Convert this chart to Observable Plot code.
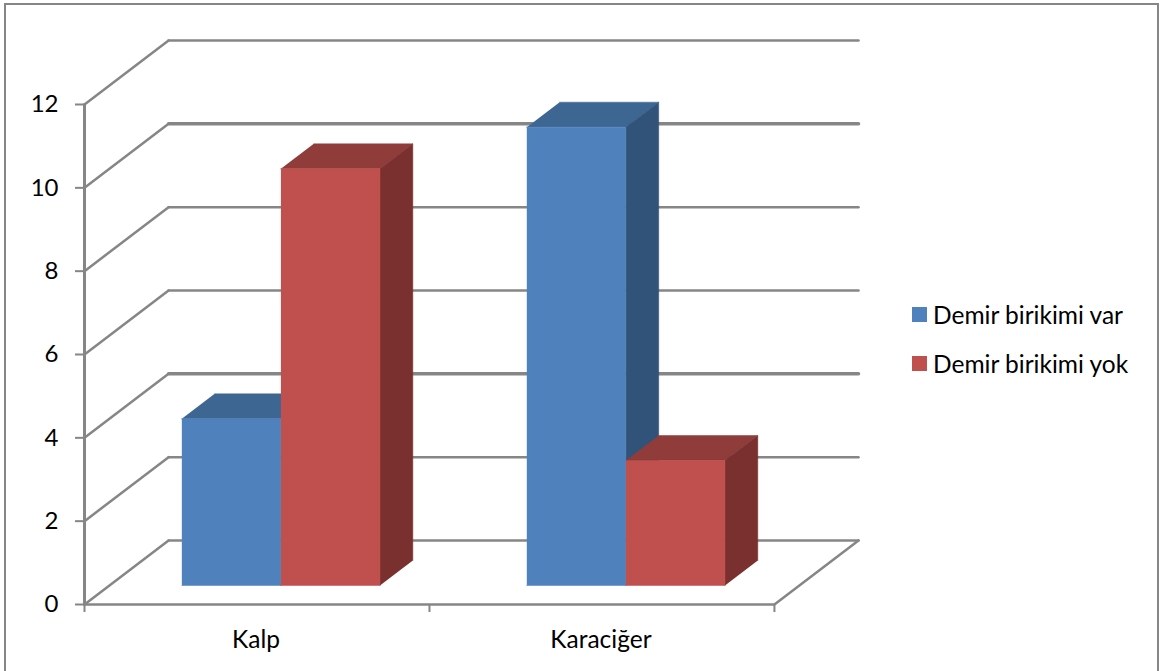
<!DOCTYPE html>
<html lang="tr">
<head>
<meta charset="utf-8">
<title>Demir birikimi</title>
<script src="https://cdn.jsdelivr.net/npm/d3@7"></script>
<script src="https://cdn.jsdelivr.net/npm/@observablehq/plot@0.6"></script>
<style>
  html, body { margin: 0; padding: 0; background: #fff; overflow: hidden; }
  #stage { position: relative; width: 1160px; height: 671px; overflow: hidden; font-family: Lato, sans-serif; }
  #stage svg { position: absolute; left: 0; top: 0; }
  #border { position: absolute; left: 4px; top: 3px; width: 1151px; height: 700px; border: 2px solid #868686; }
  #legend { position: absolute; left: 912px; top: 290px; font-size: 24.5px; color: #000; }
  #legend div { display: flex; align-items: center; height: 49px; white-space: nowrap; }
  #legend i { display: block; width: 15px; height: 15px; margin-right: 6px; }
</style>
</head>
<body>
<div id="stage">
  <div id="border"></div>
  <div id="legend"></div>
</div>
<script>
// Iron deposition by organ
const categories = ["Kalp", "Karaciğer"];
const seriesNames = ["Demir birikimi var", "Demir birikimi yok"];
const varValues = [4, 11];
const yokValues = [10, 3];
const yTicks = [0, 2, 4, 6, 8, 10, 12];
const xTicks = [0, 1, 2];

// Shades per series: front, top and side faces
const shades = [
  {front: "#4f81bd", top: "#3e6693", side: "#315379"},
  {front: "#c0504d", top: "#8f3c3a", side: "#7a302e"}
];

// Oblique projection, in data units: how far one full unit of depth shifts a point
const depthX = 84 / 344.7;
const depthY = 64 / 41.67;
const project = (x, v, z) => ({x: x + z * depthX, y: v + z * depthY});

// Placement of the bars inside a category slot and through the depth
const gap = 0.2098;
const barWidth = 0.2872;
const zFront = 0.297;
const zBack = 0.6875;

const poly = (pts, fill) => Plot.line(pts, {x: "x", y: "y", fill, stroke: fill, strokeWidth: 0.5});
const wire = (pts, strokeWidth = 2.5) => Plot.line(pts, {x: "x", y: "y", stroke: "#868686", strokeWidth, strokeLinejoin: "miter"});

// Side wall and back wall gridlines; the 10 and 4 lines render heavier on the back wall
const heavy = new Set([10, 4]);
const gridMarks = yTicks.flatMap((v) => [
  wire([project(0, v, 0), project(0, v, 1)]),
  wire([project(0, v, 1), project(2, v, 1)], heavy.has(v) ? 3.5 : 2.5)
]);

// Floor outline and the vertical axis
const frameMarks = [
  wire([project(0, 0, 0), project(2, 0, 0), project(2, 0, 1)]),
  wire([project(0, 0, 0), project(0, 12, 0)], 3)
];

// One box: top and side faces first, then the front
function box(i, s, v) {
  const x0 = i + gap + s * barWidth;
  const x1 = x0 + barWidth;
  const c = shades[s];
  return [
    poly([project(x0, v, zFront), project(x1, v, zFront), project(x1, v, zBack), project(x0, v, zBack)], c.top),
    poly([project(x1, 0, zFront), project(x1, v, zFront), project(x1, v, zBack), project(x1, 0, zBack)], c.side),
    poly([project(x0, 0, zFront), project(x1, 0, zFront), project(x1, v, zFront), project(x0, v, zFront)], c.front)
  ];
}

const barMarks = categories.flatMap((_, i) => [
  ...box(i, 0, varValues[i]),
  ...box(i, 1, yokValues[i])
]);

const chart = Plot.plot({
  width: 1160,
  height: 671,
  marginLeft: 84,
  marginRight: 302,
  marginTop: 40,
  marginBottom: 67,
  style: {background: "transparent", fontFamily: "Lato, sans-serif", overflow: "visible"},
  x: {domain: [0, 2 + depthX]},
  y: {domain: [0, 12 + depthY]},
  marks: [
    ...gridMarks,
    ...frameMarks,
    ...barMarks,
    Plot.axisY({
      ticks: yTicks,
      tickSize: 9,
      tickPadding: 17,
      stroke: "#868686",
      strokeWidth: 2,
      fill: "#000",
      fontSize: 24,
      label: null,
      tickFormat: (d) => `${d}`
    }),
    Plot.axisX({
      ticks: xTicks,
      tickSize: 8,
      stroke: "#868686",
      strokeWidth: 2,
      tickFormat: () => "",
      label: null
    }),
    Plot.text(categories, {
      x: (_, i) => i + 0.5,
      y: 0,
      text: (d) => d,
      dx: -1,
      dy: 36,
      fontSize: 24.5,
      fill: "#000"
    })
  ]
});

document.getElementById("stage").appendChild(chart);

// Legend sits to the right of the plot area
const legend = document.getElementById("legend");
seriesNames.forEach((name, s) => {
  const row = document.createElement("div");
  const swatch = document.createElement("i");
  swatch.style.background = shades[s].front;
  row.append(swatch, name);
  legend.append(row);
});
</script>
</body>
</html>
